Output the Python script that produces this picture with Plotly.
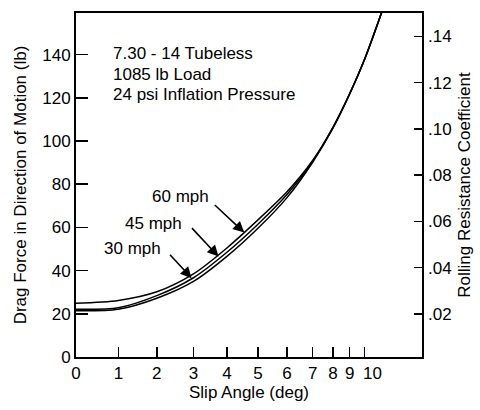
import numpy as np
import plotly.graph_objects as go

# ---- data ----
slip_angle = [0, 1, 2, 3, 4, 5, 6, 7, 8, 9, 10, 11.2]
drag_60mph = [24.9, 26.2, 30.2, 38.5, 50.5, 63.5, 76.5, 91.0, 106.5, 122.0, 138.0, 160.0]
drag_45mph = [22.1, 22.8, 28.4, 36.7, 48.5, 61.5, 75.2, 90.6, 106.3, 121.9, 138.0, 160.0]
drag_30mph = [21.4, 22.1, 27.2, 35.0, 46.6, 59.6, 73.8, 90.2, 106.1, 121.8, 138.0, 160.0]

x_tick_labels = ["0", "1", "2", "3", "4", "5", "6", "7", "8", "9", "10"]
x_tick_angles = [0, 1, 2, 3, 4, 5, 6, 7, 8, 9, 10]
# the printed slip-angle scale is non-uniform: axis position of each degree
x_scale_angles = [0, 1, 2, 3, 4, 5, 6, 7, 8, 9, 10, 11, 12]
x_scale_pos = [0, 42.3, 80.7, 117.3, 150.7, 181.7, 210.7, 236.3, 256.7, 273.3, 288.3, 302.8, 316.5]

y_left_ticks = [0, 20, 40, 60, 80, 100, 120, 140]
y_right_ticks = [0.02, 0.04, 0.06, 0.08, 0.10, 0.12, 0.14]
y_right_labels = [".02", ".04", ".06", ".08", ".10", ".12", ".14"]

info_lines = ["7.30 - 14 Tubeless", "1085 lb Load", "24 psi Inflation Pressure"]
speed_labels = ["60 mph", "45 mph", "30 mph"]
arrow_tip_angle = [4.56, 3.75, 2.95]
arrow_tip_force = [57.6, 46.5, 36.5]


def pos(a):
    return np.interp(np.asarray(a, dtype=float), x_scale_angles, x_scale_pos)


FONT = "Liberation Sans, Arial, Helvetica, sans-serif"
FS = 17
L, R, T, B = 76, 58, 13, 53
PW, PH = 480 - L - R, 410 - T - B

fig = go.Figure()
for ys in (drag_30mph, drag_45mph, drag_60mph):
    fig.add_trace(go.Scatter(
        x=pos(slip_angle), y=ys, mode="lines",
        line=dict(color="black", width=1.5, shape="spline", smoothing=0.8),
        showlegend=False, hoverinfo="skip"))

# helper trace so the right axis is drawn
fig.add_trace(go.Scatter(x=[float(pos(0))], y=[0.05], yaxis="y2", mode="markers",
                         marker=dict(opacity=0), showlegend=False, hoverinfo="skip"))

tail_off = [(-31, -29), (-28, -30), (-23, -25)]
for ta, tf, (dx, dy) in zip(arrow_tip_angle, arrow_tip_force, tail_off):
    fig.add_annotation(x=float(pos(ta)), y=tf, ax=dx, ay=dy, text="",
                       showarrow=True, arrowhead=2, arrowsize=1.4, arrowwidth=1.6,
                       arrowcolor="black")

label_xy = [(180, 196.7), (153, 223), (132, 248.5)]
for lab, (px, py) in zip(speed_labels, label_xy):
    fig.add_annotation(x=(px - L) / PW, y=1 - (py - T) / PH,
                       xref="paper", yref="paper", text=lab, showarrow=False,
                       font=dict(family=FONT, size=FS, color="black"),
                       xanchor="center", yanchor="middle")

for i, line in enumerate(info_lines):
    fig.add_annotation(x=(111 - L) / PW, y=1 - (53.3 + 20.8 * i - T) / PH,
                       xref="paper", yref="paper", text=line, showarrow=False,
                       font=dict(family=FONT, size=FS, color="black"),
                       xanchor="left", yanchor="middle")

# the last slip-angle label sits slightly right of its tick in the original
shown_text = x_tick_labels[:-1] + [""]
fig.add_annotation(x=float(pos(x_tick_angles[-1])), y=0, xref="x", yref="paper",
                   text=x_tick_labels[-1], showarrow=False, xanchor="center",
                   yanchor="middle", xshift=7.5, yshift=-16,
                   font=dict(family=FONT, size=FS, color="black"))

fig.update_layout(
    width=480, height=410,
    margin=dict(l=L, r=R, t=T, b=B, autoexpand=False),
    paper_bgcolor="white", plot_bgcolor="white",
    font=dict(family=FONT, size=FS, color="black"),
    xaxis=dict(range=[0, 345.5], tickmode="array", tickvals=pos(x_tick_angles),
               ticktext=shown_text, tickangle=0, ticks="inside", ticklen=10,
               tickwidth=1.5, tickcolor="black", showline=True, linecolor="black",
               linewidth=2, mirror=True, showgrid=False, zeroline=False,
               automargin=False,
               title=dict(text="Slip Angle (deg)", standoff=2, font=dict(size=FS))),
    yaxis=dict(range=[0, 159.3], tickmode="array", tickvals=y_left_ticks,
               ticks="inside", ticklen=12, tickwidth=1.5, tickcolor="black",
               showline=True, linecolor="black", linewidth=2, mirror=True,
               showgrid=False, zeroline=False, automargin=False,
               title=dict(text="Drag Force in Direction of Motion (lb)", standoff=11,
                          font=dict(size=FS))),
    yaxis2=dict(range=[0.0014, 0.1501], overlaying="y", side="right",
                tickmode="array", tickvals=y_right_ticks, ticktext=y_right_labels,
                ticks="inside", ticklen=8, tickwidth=1.5, tickcolor="black",
                ticklabelstandoff=5, automargin=False,
                showline=False, showgrid=False, zeroline=False,
                title=dict(text="Rolling Resistance Coefficient", standoff=7,
                           font=dict(size=FS))),
)

fig.write_html(
    "out.html",
    config={"displayModeBar": False, "staticPlot": True},
    post_script="document.body.style.margin='0px';document.body.style.overflow='hidden';",
)
